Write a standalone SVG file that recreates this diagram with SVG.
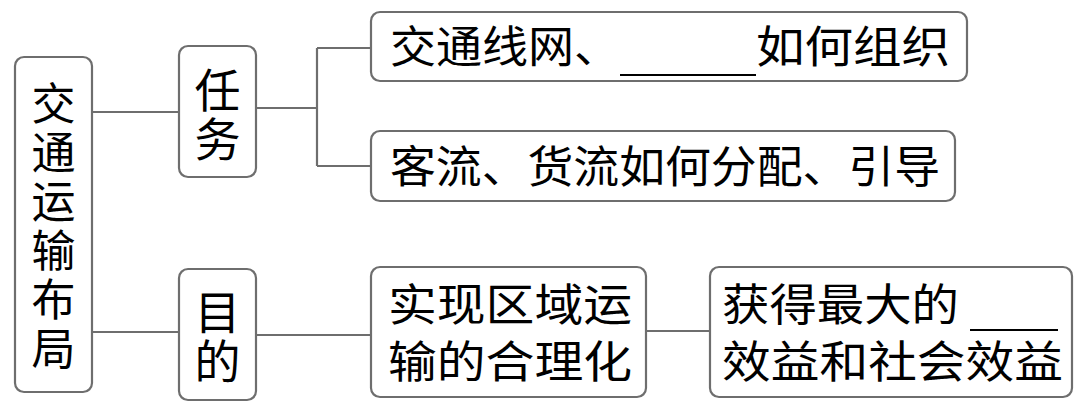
<svg xmlns="http://www.w3.org/2000/svg" width="1080" height="412" viewBox="0 0 1080 412">
<style>
.box{fill:#fff;stroke:#6e6e6e;stroke-width:2.2}
.con{fill:none;stroke:#6e6e6e;stroke-width:2.2}
.t{font-family:"Noto Sans CJK SC","Noto Sans CJK JP",sans-serif;fill:#000;font-size:44px}
.c{text-anchor:middle}
.blank{stroke:#000;stroke-width:2}
</style>
<rect width="1080" height="412" fill="#fff"/>
<g id="connectors">
<path class="con" d="M92 112H179"/>
<path class="con" d="M92 332H179"/>
<path class="con" d="M256 108H317M317 48V166M317 48H371M317 166H371"/>
<path class="con" d="M256 335H371"/>
<path class="con" d="M646 331H710"/>
</g>
<g id="root">
<rect class="box" x="15" y="57" width="77" height="335" rx="9"/>
<text class="t c" x="53.5" y="120">交</text>
<text class="t c" x="53.5" y="169">通</text>
<text class="t c" x="53.5" y="218">运</text>
<text class="t c" x="53.5" y="267">输</text>
<text class="t c" x="53.5" y="316">布</text>
<text class="t c" x="53.5" y="365">局</text>
</g>
<g id="task">
<rect class="box" x="179" y="46" width="77" height="131" rx="9"/>
<text class="t c" x="217.5" y="107" style="font-size:46px">任</text>
<text class="t c" x="217.5" y="156" style="font-size:46px">务</text>
</g>
<g id="purpose">
<rect class="box" x="179" y="269" width="77" height="131" rx="9"/>
<text class="t c" x="217.5" y="329" style="font-size:46px">目</text>
<text class="t c" x="217.5" y="378" style="font-size:46px">的</text>
</g>
<g id="task1">
<rect class="box" x="371" y="12" width="596" height="69" rx="9"/>
<text class="t" x="390" y="63" textLength="230" lengthAdjust="spacingAndGlyphs">交通线网、</text>
<line class="blank" x1="620" y1="75" x2="756" y2="75"/>
<text class="t" x="756" y="63" textLength="194" lengthAdjust="spacingAndGlyphs">如何组织</text>
</g>
<g id="task2">
<rect class="box" x="371" y="131" width="584" height="70" rx="9"/>
<text class="t" x="390" y="183" textLength="550" lengthAdjust="spacingAndGlyphs">客流、货流如何分配、引导</text>
</g>
<g id="purpose1">
<rect class="box" x="371" y="267" width="275" height="130" rx="9"/>
<text class="t" x="388" y="321" textLength="244" lengthAdjust="spacingAndGlyphs">实现区域运</text>
<text class="t" x="388" y="378" textLength="244" lengthAdjust="spacingAndGlyphs">输的合理化</text>
</g>
<g id="purpose2">
<rect class="box" x="710" y="267" width="362" height="130" rx="9"/>
<text class="t" x="722" y="321" textLength="237" lengthAdjust="spacingAndGlyphs">获得最大的</text>
<line class="blank" x1="970" y1="330" x2="1058" y2="330"/>
<text class="t" x="722" y="378" textLength="341" lengthAdjust="spacingAndGlyphs">效益和社会效益</text>
</g>
</svg>
